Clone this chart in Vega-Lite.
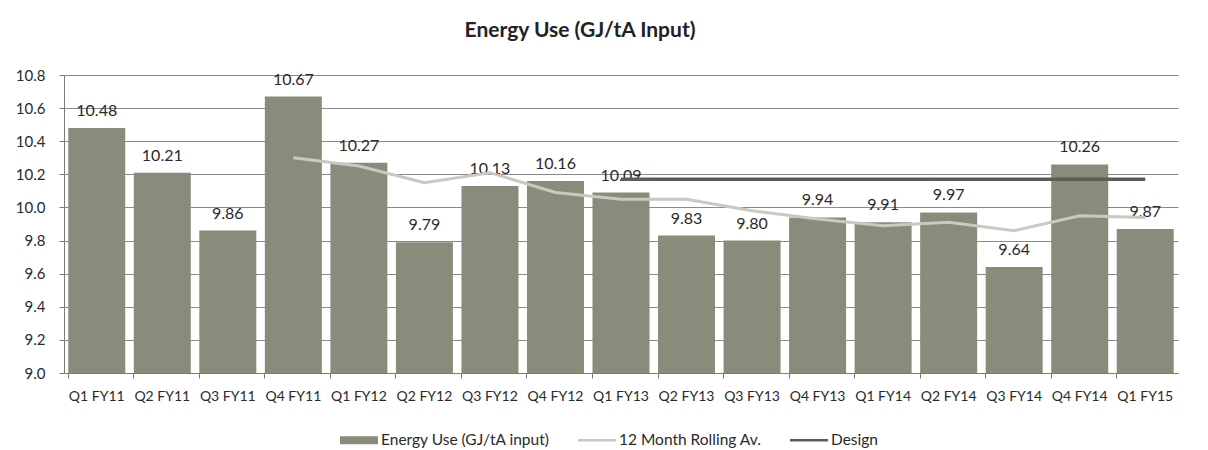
{
  "$schema": "https://vega.github.io/schema/vega-lite/v6.json",
  "autosize": {"type": "none"},
  "padding": {"left": 64, "top": 75, "right": 30, "bottom": 77},
  "width": 1114,
  "height": 298,
  "background": "#ffffff",
  "title": {"text": "Energy Use (GJ/tA Input)", "fontSize": 21, "font": "Lato", "fontWeight": "bold", "color": "#222222", "offset": 27, "anchor": "middle", "dx": -41},
  "config": {
    "font": "Lato",
    "view": {"stroke": null},
    "axis": {"labelFont": "Lato", "labelColor": "#2a2a2a", "domainColor": "#7a7a7a", "tickColor": "#7a7a7a"}
  },
  "data": {"values": [
    {"q": "Q1 FY11", "energy": 10.48, "rolling": null, "design": null},
    {"q": "Q2 FY11", "energy": 10.21, "rolling": null, "design": null},
    {"q": "Q3 FY11", "energy": 9.86, "rolling": null, "design": null},
    {"q": "Q4 FY11", "energy": 10.67, "rolling": 10.30, "design": null},
    {"q": "Q1 FY12", "energy": 10.27, "rolling": 10.25, "design": null},
    {"q": "Q2 FY12", "energy": 9.79, "rolling": 10.15, "design": null},
    {"q": "Q3 FY12", "energy": 10.13, "rolling": 10.21, "design": null},
    {"q": "Q4 FY12", "energy": 10.16, "rolling": 10.09, "design": null},
    {"q": "Q1 FY13", "energy": 10.09, "rolling": 10.05, "design": 10.17},
    {"q": "Q2 FY13", "energy": 9.83, "rolling": 10.05, "design": 10.17},
    {"q": "Q3 FY13", "energy": 9.80, "rolling": 9.98, "design": 10.17},
    {"q": "Q4 FY13", "energy": 9.94, "rolling": 9.93, "design": 10.17},
    {"q": "Q1 FY14", "energy": 9.91, "rolling": 9.89, "design": 10.17},
    {"q": "Q2 FY14", "energy": 9.97, "rolling": 9.91, "design": 10.17},
    {"q": "Q3 FY14", "energy": 9.64, "rolling": 9.86, "design": 10.17},
    {"q": "Q4 FY14", "energy": 10.26, "rolling": 9.95, "design": 10.17},
    {"q": "Q1 FY15", "energy": 9.87, "rolling": 9.94, "design": 10.17}
  ]},
  "resolve": {"axis": {"y": "independent"}},
  "encoding": {
    "x": {"field": "q", "type": "nominal", "sort": null, "title": null,
      "scale": {"paddingInner": 0.13, "paddingOuter": 0.065},
      "axis": {"labelAngle": 0, "bandPosition": 0, "ticks": true, "tickSize": 5, "labelPadding": 11, "labelFontSize": 14}}
  },
  "layer": [
    {
      "mark": {"type": "bar", "clip": true},
      "encoding": {
        "y": {"field": "energy", "type": "quantitative", "title": null,
          "scale": {"domain": [9.0, 10.8], "zero": false, "nice": false},
          "axis": {"values": [9.0, 9.2, 9.4, 9.6, 9.8, 10.0, 10.2, 10.4, 10.6, 10.8], "labelOverlap": false, "format": ".1f", "grid": true, "gridColor": "#8a8a8a", "gridWidth": 1, "tickSize": 5, "labelPadding": 14, "labelFontSize": 15}},
        "color": {"datum": "Energy Use (GJ/tA input)", "type": "nominal",
          "scale": {"domain": ["Energy Use (GJ/tA input)", "12 Month Rolling Av.", "Design"], "range": ["#8b8b7b", "#c9c9c1", "#5c5c56"]},
          "legend": {"title": null, "orient": "none", "legendX": 276, "legendY": 346, "padding": 0, "direction": "horizontal", "labelFontSize": 15.5, "labelLimit": 0, "labelFont": "Lato", "labelColor": "#2a2a2a", "symbolSize": 1444, "columnPadding": 28, "labelOffset": 3,
            "encode": {"symbols": {"update": {
              "shape": {"signal": "datum.value === 'Energy Use (GJ/tA input)' ? 'M-1,-0.21H1V0.21H-1Z' : 'M-1,-0.07H1V0.07H-1Z'"},
              "fill": {"scale": "color", "field": "value"},
              "stroke": {"value": "transparent"},
              "strokeWidth": {"value": 0},
              "opacity": {"value": 1}
            }}}}}
      }
    },
    {
      "mark": {"type": "text", "baseline": "bottom", "dy": -9, "fontSize": 16, "font": "Lato", "color": "#2a2a2a"},
      "encoding": {
        "y": {"field": "energy", "type": "quantitative", "axis": null},
        "text": {"field": "energy", "type": "quantitative", "format": ".2f"}
      }
    },
    {
      "transform": [{"filter": "datum.rolling != null"}],
      "mark": {"type": "line", "strokeWidth": 3},
      "encoding": {
        "y": {"field": "rolling", "type": "quantitative", "axis": null},
        "color": {"datum": "12 Month Rolling Av.", "type": "nominal"}
      }
    },
    {
      "transform": [{"filter": "datum.design != null"}],
      "mark": {"type": "line", "strokeWidth": 3.5},
      "encoding": {
        "y": {"field": "design", "type": "quantitative", "axis": null},
        "color": {"datum": "Design", "type": "nominal"}
      }
    }
  ]
}
